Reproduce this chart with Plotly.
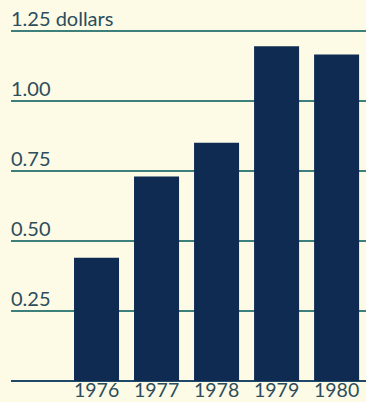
import plotly.graph_objects as go

years = ["1976", "1977", "1978", "1979", "1980"]
values = [0.44, 0.73, 0.85, 1.195, 1.165]
y_ticks = [0.25, 0.50, 0.75, 1.00, 1.25]
y_tick_labels = ["0.25", "0.50", "0.75", "1.00", "1.25 dollars"]

bg = "#fdfbe6"
bar_color = "#0f2b52"
grid_color = "#3d7f7a"
text_color = "#2c4d5c"
font_family = "Lato, 'Open Sans', sans-serif"

x_idx = list(range(len(years)))

fig = go.Figure(
    go.Bar(x=x_idx, y=values, marker=dict(color=bar_color, line=dict(width=0)), width=0.75)
)

annotations = [
    dict(x=0, xref="paper", y=v, yref="y", text=t, showarrow=False,
         xanchor="left", yanchor="bottom", yshift=-1, xshift=-2,
         font=dict(family=font_family, size=20, color=text_color))
    for v, t in zip(y_ticks, y_tick_labels)
]
annotations += [
    dict(x=i, xref="x", y=0, yref="y", text=yr, showarrow=False,
         xanchor="center", yanchor="top", yshift=5,
         font=dict(family=font_family, size=19.5, color=text_color))
    for i, yr in zip(x_idx, years)
]

fig.update_layout(
    width=366, height=402,
    margin=dict(l=11, r=0, t=28, b=21, autoexpand=False),
    paper_bgcolor=bg, plot_bgcolor=bg,
    showlegend=False,
    annotations=annotations,
    xaxis=dict(
        range=[-1.425, 4.49],
        tickmode="array", tickvals=x_idx,
        showticklabels=False,
        showgrid=False, zeroline=False, showline=False, ticks="",
        automargin=False,
        fixedrange=True,
    ),
    yaxis=dict(
        range=[0, 1.26],
        tickmode="array", tickvals=y_ticks,
        showticklabels=False,
        showgrid=True, gridcolor=grid_color, gridwidth=2,
        zeroline=True, zerolinecolor="#1f4a6a", zerolinewidth=2,
        showline=False, ticks="",
        automargin=False,
        fixedrange=True,
    ),
)

fig.write_html(
    "out.html",
    config={"displayModeBar": False},
    post_script="document.body.style.margin='0';document.body.style.overflow='hidden';document.body.style.background='%s';" % bg,
)
